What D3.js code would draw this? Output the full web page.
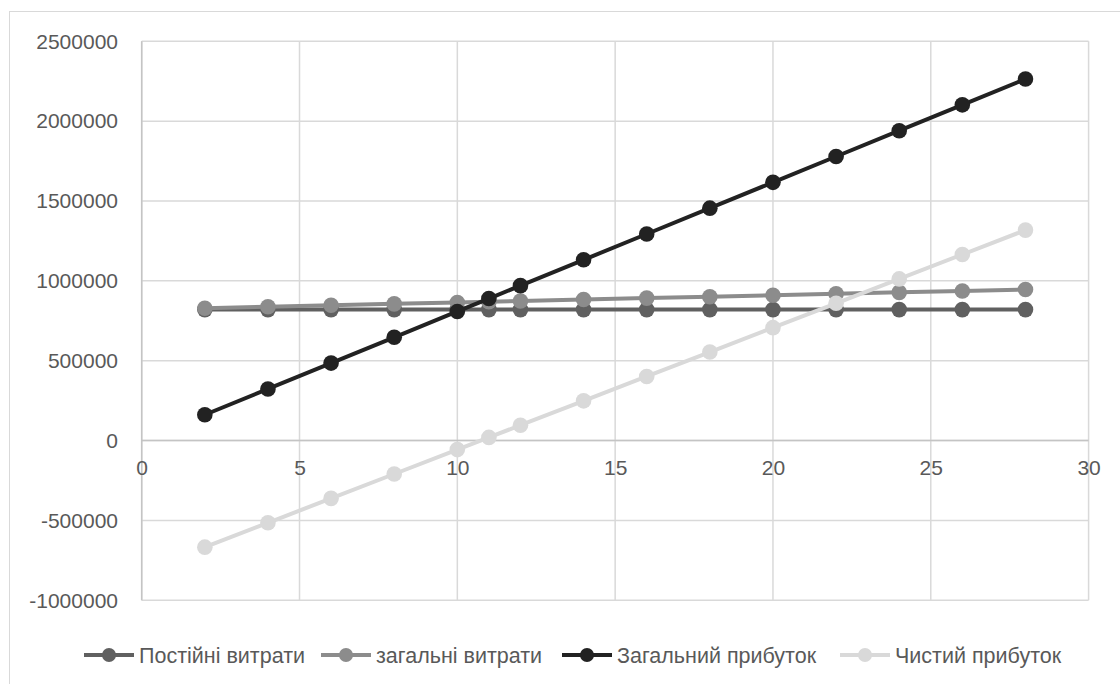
<!DOCTYPE html>
<html>
<head>
<meta charset="utf-8">
<script src="https://cdn.jsdelivr.net/npm/d3@7"></script>
<style>
  html, body { margin: 0; padding: 0; background: #fff; }
  svg { display: block; }
  text { font-family: "Liberation Sans", Arial, sans-serif; fill: #595959; }
</style>
</head>
<body>
<svg id="chart" width="1120" height="684"></svg>
<script>
// Output volume (units)
const volume = [2, 4, 6, 8, 10, 11, 12, 14, 16, 18, 20, 22, 24, 26, 28];

// Series values, UAH
const fixedCosts = [820000, 820000, 820000, 820000, 820000, 820000, 820000, 820000,
                    820000, 820000, 820000, 820000, 820000, 820000, 820000];
const totalCosts = [829000, 838000, 847000, 856000, 865000, 869500, 874000, 883000,
                    892000, 901000, 910000, 919000, 928000, 937000, 946000];
const grossProfit = [161700, 323400, 485100, 646800, 808500, 889350, 970200, 1131900,
                     1293600, 1455300, 1617000, 1778700, 1940400, 2102100, 2263800];
const netProfit = [-667300, -514600, -361900, -209200, -56500, 19850, 96200, 248900,
                   401600, 554300, 707000, 859700, 1012400, 1165100, 1317800];

const seriesNames = ["Постійні витрати", "загальні витрати", "Загальний прибуток", "Чистий прибуток"];
const seriesColors = ["#606060", "#8c8c8c", "#222222", "#d9d9d9"];

// Axis ticks
const xTicks = [0, 5, 10, 15, 20, 25, 30];
const yTicks = [-1000000, -500000, 0, 500000, 1000000, 1500000, 2000000, 2500000];

const seriesValues = [fixedCosts, totalCosts, grossProfit, netProfit];

// Plain integer labels with an ASCII hyphen for negatives
const plainNumber = d => String(Math.round(d));

const svg = d3.select("#chart");

// Chart frame
svg.append("rect")
  .attr("x", 9.5).attr("y", 11.5)
  .attr("width", 1140).attr("height", 700)
  .attr("fill", "#fff").attr("stroke", "#d9d9d9").attr("stroke-width", 1);

const x = d3.scaleLinear().domain([0, 30]).range([141.7, 1088.6]);
const y = d3.scaleLinear().domain([-1000000, 2500000]).range([600.3, 41.3]);

// Gridlines
const grid = svg.append("g");
grid.selectAll("line.h").data(yTicks).join("line")
  .attr("x1", x(0)).attr("x2", x(30))
  .attr("y1", d => y(d)).attr("y2", d => y(d))
  .attr("stroke", "#d9d9d9").attr("stroke-width", 1.5);
grid.selectAll("line.v").data(xTicks).join("line")
  .attr("y1", y(2500000)).attr("y2", y(-1000000))
  .attr("x1", d => x(d)).attr("x2", d => x(d))
  .attr("stroke", "#d9d9d9").attr("stroke-width", 1.5);

// Axis lines crossing at the origin
svg.append("line")
  .attr("x1", x(0)).attr("x2", x(30)).attr("y1", y(0)).attr("y2", y(0))
  .attr("stroke", "#c4c4c4").attr("stroke-width", 1.5);
svg.append("line")
  .attr("x1", x(0)).attr("x2", x(0)).attr("y1", y(2500000)).attr("y2", y(-1000000))
  .attr("stroke", "#c4c4c4").attr("stroke-width", 1.5);

// Y tick labels
const yAxis = d3.axisLeft(y).tickValues(yTicks).tickSize(0).tickPadding(0)
  .tickFormat(plainNumber);
const gy = svg.append("g").attr("transform", "translate(118,0)").call(yAxis);
gy.select(".domain").remove();
gy.selectAll("text").style("font-size", "21px").attr("fill", "#595959")
  .attr("font-family", "'Liberation Sans', Arial, sans-serif");

// X tick labels, placed just under the zero line
const xAxis = d3.axisBottom(x).tickValues(xTicks).tickSize(0).tickPadding(0)
  .tickFormat(plainNumber);
const gx = svg.append("g").attr("transform", `translate(0,${y(0) + 19})`).call(xAxis);
gx.select(".domain").remove();
gx.selectAll("text").style("font-size", "21px").attr("fill", "#595959")
  .attr("font-family", "'Liberation Sans', Arial, sans-serif");

// Series lines and markers
const line = d3.line().x((d, i) => x(volume[i])).y(d => y(d));
seriesValues.forEach((vals, s) => {
  const g = svg.append("g");
  g.append("path").datum(vals)
    .attr("d", line)
    .attr("fill", "none")
    .attr("stroke", seriesColors[s])
    .attr("stroke-width", 4)
    .attr("stroke-linejoin", "round");
  g.selectAll("circle").data(vals).join("circle")
    .attr("cx", (d, i) => x(volume[i]))
    .attr("cy", d => y(d))
    .attr("r", 7.8)
    .attr("fill", seriesColors[s]);
});

// Legend
const legendY = 655;
const legendStarts = [84, 321, 562, 840];
const legend = svg.append("g");
seriesNames.forEach((name, s) => {
  const g = legend.append("g").attr("transform", `translate(${legendStarts[s]},${legendY})`);
  g.append("line").attr("x1", 0).attr("x2", 50).attr("y1", 0).attr("y2", 0)
    .attr("stroke", seriesColors[s]).attr("stroke-width", 4);
  g.append("circle").attr("cx", 25).attr("cy", 0).attr("r", 7)
    .attr("fill", seriesColors[s]);
  g.append("text").attr("x", 55).attr("y", 0).attr("dy", "0.35em")
    .style("font-size", "21.5px").attr("fill", "#595959")
    .text(name);
});
</script>
</body>
</html>
